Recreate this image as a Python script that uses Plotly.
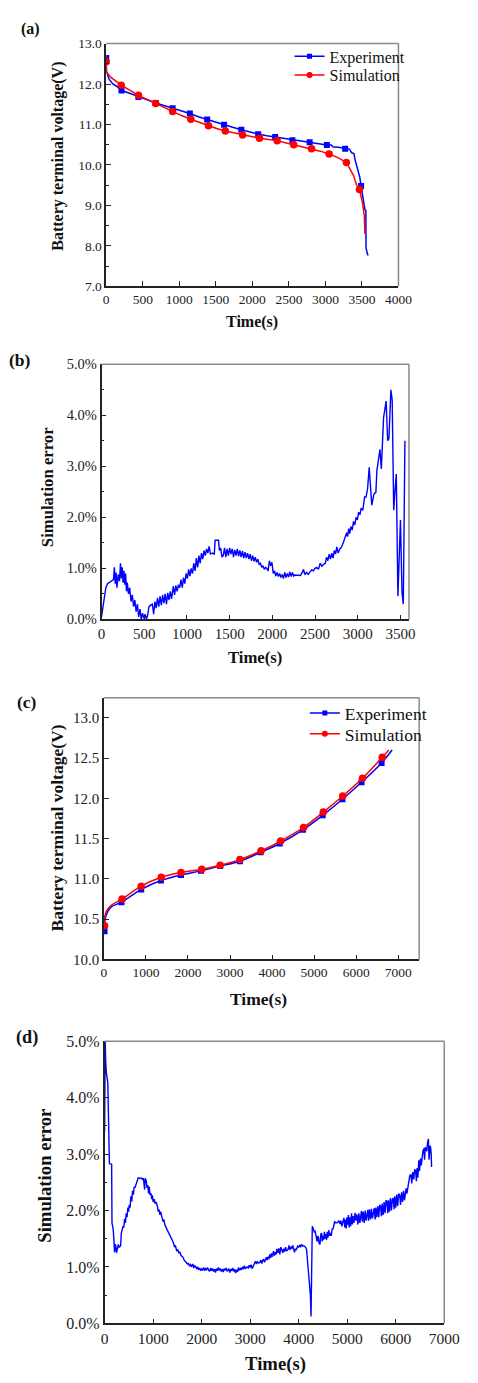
import plotly.graph_objects as go

W, H = 478, 1383
BLUE = '#0000FF'
RED = '#FF0000'
FONT = 'Liberation Serif'

# ---------------- Panel (a): discharge voltage ----------------
a_exp_t = [0, 2, 35, 87, 153, 209, 320, 441, 560, 677, 790, 909, 1030, 1145, 1260, 1381, 1500, 1613,
           1730, 1849, 1960, 2080, 2200, 2312, 2430, 2548, 2660, 2784, 2900, 3020, 3080, 3100, 3200,
           3270, 3330, 3360, 3390, 3410, 3440, 3470, 3488, 3520, 3540, 3554, 3556, 3575, 3584]
a_exp_v = [12.65, 12.33, 12.13, 12.01, 11.93, 11.84, 11.77, 11.68, 11.61, 11.53, 11.47, 11.40, 11.34,
           11.27, 11.19, 11.12, 11.05, 10.99, 10.93, 10.87, 10.81, 10.76, 10.72, 10.69, 10.65, 10.61,
           10.59, 10.56, 10.53, 10.49, 10.49, 10.45, 10.43, 10.40, 10.39, 10.30, 10.28, 10.10, 9.90,
           9.70, 9.48, 9.05, 8.90, 8.87, 7.95, 7.80, 7.76]
a_exp_mt = [0, 209, 441, 677, 909, 1145, 1381, 1613, 1849, 2080, 2312, 2548, 2784, 3020, 3270, 3488]
a_exp_mv = [12.64, 11.84, 11.68, 11.53, 11.40, 11.27, 11.12, 10.99, 10.87, 10.76, 10.69, 10.61, 10.56,
            10.49, 10.40, 9.48]

a_sim_t = [0, 3, 60, 120, 205, 320, 441, 560, 677, 790, 909, 1030, 1158, 1280, 1399, 1510, 1630, 1750,
           1866, 1980, 2098, 2220, 2339, 2450, 2566, 2690, 2810, 2930, 3051, 3170, 3287, 3343, 3387,
           3422, 3466, 3506, 3532, 3540]
a_sim_v = [12.55, 12.30, 12.17, 12.08, 11.97, 11.85, 11.72, 11.62, 11.52, 11.42, 11.32, 11.22, 11.13,
           11.05, 10.97, 10.90, 10.84, 10.79, 10.74, 10.70, 10.66, 10.63, 10.60, 10.55, 10.50, 10.45,
           10.40, 10.34, 10.27, 10.18, 10.06, 9.89, 9.73, 9.52, 9.39, 9.08, 8.75, 8.30]
a_sim_mt = [0, 205, 441, 677, 909, 1158, 1399, 1630, 1866, 2098, 2339, 2566, 2810, 3051, 3287, 3466]
a_sim_mv = [12.55, 11.97, 11.72, 11.52, 11.32, 11.13, 10.97, 10.84, 10.74, 10.66, 10.60, 10.50, 10.40,
            10.27, 10.06, 9.39]

# ---------------- Panel (b): discharge simulation error (%) ----------------
b_t = [0, 15, 30, 50, 70, 95, 120, 140, 150, 160, 170, 180, 195, 210, 222, 232, 242, 252, 262, 272,
       282, 292, 302, 315, 330, 345, 360, 375, 390, 405, 420, 435, 450, 465, 480, 495, 510, 525, 540,
       555, 575, 595, 610, 625, 640, 655, 670, 685, 700, 715, 730, 745, 760, 775, 790, 805, 820, 840,
       855, 870, 885, 900, 915, 930, 945, 960, 975, 990, 1005, 1020, 1035, 1050, 1065, 1080, 1095,
       1110, 1125, 1140, 1155, 1170, 1185, 1200, 1215, 1230, 1245, 1260, 1275, 1300, 1320, 1330,
       1370, 1380, 1395, 1410, 1425, 1440, 1455, 1470, 1485, 1500, 1515, 1530, 1545, 1560, 1575,
       1590, 1605, 1620, 1635, 1650, 1665, 1680, 1695, 1710, 1725, 1740, 1755, 1770, 1785, 1800,
       1815, 1830, 1845, 1860, 1875, 1890, 1905, 1920, 1935, 1950, 1965, 1980, 1995, 2010, 2025,
       2040, 2055, 2070, 2085, 2100, 2115, 2130, 2145, 2160, 2175, 2190, 2205, 2220, 2235, 2250,
       2265, 2300, 2330, 2350, 2365, 2380, 2400, 2420, 2440, 2460, 2480, 2500, 2520, 2540, 2560,
       2580, 2600, 2620, 2635, 2650, 2665, 2680, 2695, 2710, 2725, 2740, 2755, 2770, 2790, 2810,
       2830, 2845, 2860, 2870, 2880, 2895, 2905, 2920, 2935, 2950, 2965, 2980, 2995, 3010, 3025,
       3040, 3059, 3070, 3080, 3097, 3115, 3134, 3145, 3164, 3190, 3212, 3224, 3246, 3260, 3276,
       3302, 3332, 3350, 3365, 3388, 3403, 3421, 3435, 3451, 3470, 3500, 3518, 3533, 3552]
b_err = [0.05, 0.20, 0.35, 0.62, 0.70, 0.73, 0.75, 0.78, 1.02, 0.70, 0.92, 0.62, 0.88, 0.75, 1.10, 0.80,
         1.02, 0.72, 0.95, 0.68, 0.90, 0.55, 0.72, 0.50, 0.62, 0.35, 0.48, 0.25, 0.38, 0.15, 0.30, 0.05,
         0.20, 0.00, 0.12, 0.02, 0.10, 0.00, 0.08, 0.25, 0.28, 0.30, 0.10, 0.35, 0.22, 0.42, 0.25, 0.45,
         0.28, 0.48, 0.32, 0.50, 0.30, 0.52, 0.38, 0.55, 0.40, 0.65, 0.48, 0.66, 0.55, 0.68, 0.62, 0.78,
         0.62, 0.82, 0.70, 0.90, 0.80, 0.98, 0.85, 1.00, 0.90, 1.10, 0.95, 1.20, 1.02, 1.25, 1.10, 1.30,
         1.18, 1.35, 1.25, 1.38, 1.30, 1.43, 1.28, 1.30, 1.28, 1.55, 1.55, 1.35, 1.40, 1.22, 1.25, 1.40,
         1.22, 1.38, 1.25, 1.40, 1.28, 1.38, 1.22, 1.36, 1.25, 1.38, 1.24, 1.35, 1.22, 1.34, 1.20, 1.32,
         1.20, 1.30, 1.18, 1.28, 1.15, 1.25, 1.14, 1.22, 1.12, 1.18, 1.08, 1.10, 1.02, 1.05, 0.98, 1.02,
         1.00, 0.95, 1.15, 1.05, 1.12, 0.90, 0.95, 0.85, 0.92, 0.84, 0.90, 0.82, 0.88, 0.80, 0.92, 0.82,
         0.90, 0.83, 0.93, 0.84, 0.92, 0.85, 0.87, 0.86, 0.86, 0.92, 0.98, 0.88, 0.92, 0.88, 0.92, 0.97,
         0.95, 1.00, 1.02, 0.98, 1.10, 1.04, 1.08, 1.10, 1.22, 1.15, 1.28, 1.18, 1.30, 1.20, 1.35, 1.28,
         1.42, 1.30, 1.38, 1.42, 1.50, 1.58, 1.62, 1.70, 1.62, 1.78, 1.68, 1.82, 1.75, 1.92, 1.85, 2.00,
         1.95, 2.10, 2.05, 2.18, 2.14, 2.25, 2.40, 2.40, 2.56, 2.98, 2.60, 2.24, 2.46, 2.49, 2.92, 3.24,
         3.33, 2.95, 3.95, 4.28, 3.50, 3.55, 4.50, 4.30, 2.14, 2.50, 2.85, 0.46, 1.95, 0.53, 0.30, 3.50]

# ---------------- Panel (c): charge voltage ----------------
c_exp_t = [0, 53, 167, 417, 886, 1356, 1833, 2311, 2765, 3235, 3727, 4182, 4735, 5205, 5674, 6129,
           6606, 6856]
c_exp_v = [10.35, 10.55, 10.65, 10.71, 10.87, 10.98, 11.05, 11.10, 11.16, 11.22, 11.33, 11.44, 11.61,
           11.79, 11.99, 12.20, 12.44, 12.60]
c_exp_mt = [15, 417, 886, 1356, 1833, 2311, 2765, 3235, 3727, 4182, 4735, 5205, 5674, 6129, 6606]
c_exp_mv = [10.35, 10.71, 10.87, 10.98, 11.05, 11.10, 11.16, 11.22, 11.33, 11.44, 11.61, 11.79, 11.99,
            12.20, 12.44]

c_sim_t = [0, 60, 167, 432, 886, 1364, 1833, 2326, 2765, 3235, 3742, 4205, 4750, 5220, 5682, 6152,
           6621, 6780]
c_sim_v = [10.47, 10.60, 10.67, 10.75, 10.91, 11.02, 11.08, 11.12, 11.17, 11.24, 11.35, 11.47, 11.64,
           11.83, 12.03, 12.25, 12.51, 12.60]
c_sim_mt = [15, 432, 886, 1364, 1833, 2326, 2765, 3235, 3742, 4205, 4750, 5220, 5682, 6152, 6621]
c_sim_mv = [10.42, 10.75, 10.91, 11.02, 11.08, 11.12, 11.17, 11.24, 11.35, 11.47, 11.64, 11.83, 12.03,
            12.25, 12.51]

# ---------------- Panel (d): charge simulation error (%) ----------------
d_t = [0, 12, 20, 33, 66, 99, 145, 152, 178, 190, 205, 220, 231, 245, 264, 284, 300, 330, 345, 363,
       380, 396, 412, 429, 445, 462, 480, 495, 508, 525, 540, 561, 575, 594, 610, 625, 640, 660, 693,
       720, 759, 780, 800, 815, 825, 838, 860, 875, 891, 905, 920, 935, 957, 970, 985, 1000, 1023,
       1040, 1060, 1089, 1105, 1120, 1140, 1155, 1175, 1190, 1210, 1221, 1240, 1260, 1287, 1310, 1330,
       1353, 1375, 1395, 1419, 1440, 1460, 1485, 1510, 1530, 1551, 1575, 1600, 1617, 1640, 1660, 1683,
       1710, 1730, 1749, 1770, 1790, 1815, 1840, 1860, 1881, 1900, 1920, 1940, 1960, 1980, 2000, 2020,
       2040, 2060, 2080, 2100, 2120, 2145, 2165, 2185, 2205, 2225, 2245, 2265, 2285, 2305, 2325, 2345,
       2365, 2385, 2405, 2425, 2445, 2465, 2485, 2505, 2525, 2541, 2560, 2580, 2600, 2620, 2640, 2660,
       2680, 2700, 2720, 2740, 2760, 2780, 2800, 2820, 2840, 2860, 2880, 2900, 2937, 2960, 2980, 3000,
       3020, 3040, 3069, 3090, 3110, 3130, 3150, 3170, 3201, 3220, 3240, 3255, 3275, 3295, 3315, 3333,
       3350, 3370, 3386, 3405, 3420, 3440, 3460, 3480, 3500, 3518, 3535, 3550, 3570, 3590, 3610, 3630,
       3649, 3670, 3690, 3710, 3730, 3750, 3781, 3800, 3820, 3840, 3860, 3880, 3900, 3912, 3930, 3950,
       3978, 4000, 4020, 4040, 4060, 4080, 4109, 4140, 4162, 4185, 4208, 4230, 4241, 4254, 4280, 4300,
       4320, 4339, 4360, 4380, 4395, 4405, 4420, 4438, 4455, 4471, 4485, 4500, 4515, 4530, 4545, 4560,
       4575, 4590, 4605, 4620, 4635, 4650, 4670, 4690, 4701, 4720, 4740, 4767, 4790, 4810, 4830, 4850,
       4870, 4890, 4910, 4931, 4950, 4965, 4980, 4995, 5010, 5025, 5040, 5055, 5070, 5090, 5105, 5120,
       5140, 5161, 5180, 5200, 5220, 5240, 5260, 5293, 5310, 5330, 5350, 5370, 5390, 5410, 5424, 5440,
       5460, 5480, 5500, 5520, 5540, 5556, 5575, 5590, 5610, 5630, 5650, 5670, 5687, 5705, 5720, 5740,
       5760, 5780, 5800, 5819, 5835, 5850, 5870, 5890, 5910, 5930, 5950, 5965, 5980, 6000, 6020, 6040,
       6060, 6082, 6100, 6120, 6140, 6160, 6180, 6200, 6213, 6230, 6250, 6270, 6290, 6312, 6330, 6350,
       6370, 6390, 6410, 6425, 6440, 6455, 6476, 6490, 6510, 6525, 6542, 6560, 6580, 6595, 6607, 6620,
       6640, 6655, 6673, 6685, 6700, 6710, 6720, 6730, 6739]
d_err = [3.40, 5.00, 4.70, 4.46, 4.26, 2.83, 2.82, 1.78, 1.66, 1.50, 1.26, 1.40, 1.37, 1.25, 1.32, 1.40,
         1.35, 1.37, 1.60, 1.66, 1.72, 1.70, 1.85, 1.78, 1.95, 1.88, 2.05, 1.98, 2.10, 2.05, 2.25, 2.16,
         2.35, 2.28, 2.42, 2.40, 2.45, 2.50, 2.58, 2.57, 2.57, 2.55, 2.57, 2.45, 2.37, 2.57, 2.52, 2.40,
         2.45, 2.30, 2.42, 2.28, 2.30, 2.20, 2.27, 2.15, 2.20, 2.12, 2.15, 2.07, 1.98, 2.02, 1.92, 1.98,
         1.88, 1.85, 1.80, 1.84, 1.75, 1.70, 1.66, 1.62, 1.58, 1.55, 1.50, 1.46, 1.43, 1.35, 1.38, 1.28,
         1.30, 1.25, 1.26, 1.20, 1.18, 1.17, 1.12, 1.10, 1.08, 1.05, 1.06, 1.02, 1.04, 1.00, 1.05, 0.98,
         1.02, 1.00, 0.96, 1.00, 0.95, 0.98, 0.93, 0.97, 0.94, 0.99, 0.93, 0.97, 0.95, 0.99, 0.94, 0.92,
         0.98, 0.93, 0.97, 0.92, 0.96, 0.90, 0.97, 0.93, 0.99, 0.94, 0.97, 0.92, 0.96, 0.91, 0.97, 0.94,
         0.98, 0.92, 0.94, 0.97, 0.90, 0.96, 0.93, 0.98, 0.92, 0.96, 0.89, 0.95, 0.91, 0.99, 0.94, 0.97,
         0.95, 1.00, 0.96, 1.02, 0.97, 1.00, 0.98, 1.03, 0.99, 1.04, 0.97, 1.02, 1.06, 1.10, 1.05, 1.09,
         1.07, 1.08, 1.12, 1.06, 1.11, 1.14, 1.08, 1.16, 1.17, 1.12, 1.18, 1.14, 1.22, 1.16, 1.24, 1.18,
         1.28, 1.20, 1.26, 1.22, 1.32, 1.25, 1.33, 1.22, 1.35, 1.31, 1.25, 1.32, 1.27, 1.35, 1.28, 1.31,
         1.38, 1.30, 1.36, 1.32, 1.38, 1.30, 1.26, 1.32, 1.30, 1.37, 1.35, 1.38, 1.36, 1.40, 1.37, 1.37,
         1.35, 1.31, 1.10, 0.91, 0.60, 0.50, 0.12, 1.72, 1.68, 1.62, 1.63, 1.55, 1.45, 1.55, 1.52, 1.42,
         1.40, 1.58, 1.60, 1.45, 1.55, 1.48, 1.62, 1.50, 1.58, 1.48, 1.62, 1.52, 1.65, 1.55, 1.60, 1.55,
         1.68, 1.66, 1.72, 1.80, 1.78, 1.78, 1.80, 1.82, 1.76, 1.82, 1.72, 1.80, 1.87, 1.70, 1.84, 1.68,
         1.88, 1.75, 1.92, 1.70, 1.88, 1.72, 1.95, 1.75, 1.90, 1.78, 1.96, 1.82, 1.93, 1.75, 1.95, 1.78,
         1.99, 1.80, 1.98, 1.78, 2.00, 1.82, 1.98, 2.01, 1.82, 2.02, 1.84, 2.03, 1.86, 2.00, 2.04, 1.84,
         2.05, 1.88, 2.08, 1.88, 2.10, 2.07, 1.90, 2.12, 1.92, 2.15, 1.95, 2.18, 2.16, 1.95, 2.18, 1.98,
         2.22, 2.00, 2.20, 2.22, 2.02, 2.25, 2.05, 2.28, 2.08, 2.30, 2.27, 2.10, 2.32, 2.15, 2.35, 2.18,
         2.38, 2.39, 2.30, 2.40, 2.55, 2.62, 2.63, 2.48, 2.68, 2.55, 2.72, 2.71, 2.52, 2.75, 2.58, 2.89,
         2.70, 2.92, 2.80, 2.95, 3.05, 3.10, 2.90, 3.12, 3.10, 3.05, 3.20, 3.27, 2.90, 3.05, 3.15, 3.10,
         3.00, 2.77]

# ---------------- layout helpers (pixel boxes of each plot area) ----------------
def dom_x(x0, x1):
    return [x0 / W, x1 / W]


def dom_y(ytop, ybot):
    return [1 - ybot / H, 1 - ytop / H]


def px(x):
    return x / W


def py(y):
    return 1 - y / H


panels = {
    'a': dict(box=(106.7, 36.0, 411.7, 281.7)),
    'b': dict(box=(101.8, 360.7, 422.7, 619.0)),
    'c': dict(box=(104.3, 698.3, 433.3, 963.3)),
    'd': dict(box=(105.0, 1046.0, 459.5, 1331.7)),
}

fig = go.Figure()

# panel (a)
fig.add_trace(go.Scatter(x=a_exp_t, y=a_exp_v, mode='lines', line=dict(color=BLUE, width=1.5),
                         xaxis='x', yaxis='y', showlegend=False, hoverinfo='skip'))
fig.add_trace(go.Scatter(x=a_exp_mt, y=a_exp_mv, mode='markers',
                         marker=dict(color=BLUE, symbol='square', size=6),
                         xaxis='x', yaxis='y', showlegend=False))
fig.add_trace(go.Scatter(x=a_sim_t, y=a_sim_v, mode='lines', line=dict(color=RED, width=1.5),
                         xaxis='x', yaxis='y', showlegend=False, hoverinfo='skip'))
fig.add_trace(go.Scatter(x=a_sim_mt, y=a_sim_mv, mode='markers',
                         marker=dict(color=RED, symbol='circle', size=7.5),
                         xaxis='x', yaxis='y', showlegend=False))
fig.add_trace(go.Scatter(x=[None], y=[None], mode='lines+markers', name='Experiment',
                         line=dict(color=BLUE, width=1.5), marker=dict(color=BLUE, symbol='square', size=5),
                         xaxis='x', yaxis='y', legend='legend'))
fig.add_trace(go.Scatter(x=[None], y=[None], mode='lines+markers', name='Simulation',
                         line=dict(color=RED, width=1.5), marker=dict(color=RED, symbol='circle', size=6),
                         xaxis='x', yaxis='y', legend='legend3'))

# panel (b)
fig.add_trace(go.Scatter(x=b_t, y=b_err, mode='lines', line=dict(color=BLUE, width=1.4),
                         xaxis='x2', yaxis='y2', showlegend=False))

# panel (c)
fig.add_trace(go.Scatter(x=c_exp_t, y=c_exp_v, mode='lines', line=dict(color=BLUE, width=1.5, shape='spline'),
                         xaxis='x3', yaxis='y3', showlegend=False, hoverinfo='skip'))
fig.add_trace(go.Scatter(x=c_exp_mt, y=c_exp_mv, mode='markers',
                         marker=dict(color=BLUE, symbol='square', size=6),
                         xaxis='x3', yaxis='y3', showlegend=False))
fig.add_trace(go.Scatter(x=c_sim_t, y=c_sim_v, mode='lines', line=dict(color=RED, width=1.5, shape='spline'),
                         xaxis='x3', yaxis='y3', showlegend=False, hoverinfo='skip'))
fig.add_trace(go.Scatter(x=c_sim_mt, y=c_sim_mv, mode='markers',
                         marker=dict(color=RED, symbol='circle', size=7.5),
                         xaxis='x3', yaxis='y3', showlegend=False))
fig.add_trace(go.Scatter(x=[None], y=[None], mode='lines+markers', name='Experiment',
                         line=dict(color=BLUE, width=1.5), marker=dict(color=BLUE, symbol='square', size=5),
                         xaxis='x3', yaxis='y3', legend='legend2'))
fig.add_trace(go.Scatter(x=[None], y=[None], mode='lines+markers', name='Simulation',
                         line=dict(color=RED, width=1.5), marker=dict(color=RED, symbol='circle', size=6),
                         xaxis='x3', yaxis='y3', legend='legend4'))

# panel (d)
fig.add_trace(go.Scatter(x=d_t, y=d_err, mode='lines', line=dict(color=BLUE, width=1.4),
                         xaxis='x4', yaxis='y4', showlegend=False))

AX_COLOR = '#222222'
FRAME_COLOR = '#8a8a8a'


def xaxis(box, rng, dtick, anchor, fs):
    x0, y0, x1, y1 = box
    return dict(domain=dom_x(x0, x1), range=rng, dtick=dtick, tick0=0, anchor=anchor,
                showline=True, linecolor=AX_COLOR, linewidth=1.5, mirror=False,
                ticks='inside', ticklen=5, tickwidth=1.2, tickcolor=AX_COLOR,
                showgrid=False, zeroline=False, fixedrange=True,
                tickfont=dict(family=FONT, size=fs, color='#222'))


def yaxis(box, rng, dtick, anchor, fs, minor=None, fmt='.1f', suffix=''):
    x0, y0, x1, y1 = box
    d = dict(domain=dom_y(y0, y1), range=rng, dtick=dtick, tick0=0, anchor=anchor,
             showline=True, linecolor=AX_COLOR, linewidth=1.5, mirror=False,
             ticks='inside', ticklen=5, tickwidth=1.2, tickcolor=AX_COLOR,
             showgrid=False, zeroline=False, fixedrange=True,
             tickformat=fmt, ticksuffix=suffix,
             tickfont=dict(family=FONT, size=fs, color='#222'))
    if minor is not None:
        d['minor'] = dict(dtick=minor, ticks='inside', ticklen=3, tickwidth=1.1, tickcolor=AX_COLOR,
                          showgrid=False)
    return d


def leg(x, y, fs):
    return dict(x=px(x), y=py(y), xanchor='left', yanchor='middle', bgcolor='rgba(0,0,0,0)',
                font=dict(family=FONT, size=fs, color='#111'), tracegroupgap=0, itemwidth=30)


layout = dict(
    width=W, height=H, margin=dict(l=0, r=0, t=0, b=0),
    paper_bgcolor='white', plot_bgcolor='white',
    xaxis=xaxis(panels['a']['box'], [0, 4000], 500, 'y', 13.5),
    yaxis=yaxis(panels['a']['box'], [7, 13], 1, 'x', 13.5, minor=0.5),
    xaxis2=xaxis(panels['b']['box'], [0, 3600], 500, 'y2', 15),
    yaxis2=yaxis(panels['b']['box'], [0, 5], 1, 'x2', 14.5, minor=0.5, suffix='%'),
    xaxis3=xaxis(panels['c']['box'], [0, 7500], 1000, 'y3', 13.5),
    yaxis3=yaxis(panels['c']['box'], [10, 13.25], 0.5, 'x3', 15),
    xaxis4=xaxis(panels['d']['box'], [0, 7000], 1000, 'y4', 15.5),
    yaxis4=yaxis(panels['d']['box'], [0, 5], 1, 'x4', 16, minor=0.5, suffix='%'),
    legend=leg(298, 49, 16),
    legend3=leg(298, 68, 16),
    legend2=leg(314, 714, 17.5),
    legend4=leg(314, 735, 17.5),
    showlegend=True,
)
fig.update_layout(**layout)

# top / right frame lines (lighter gray, as in the reference)
shapes = []
for xr, yr in [('x', 'y'), ('x2', 'y2'), ('x3', 'y3'), ('x4', 'y4')]:
    shapes.append(dict(type='line', xref=xr + ' domain', yref=yr + ' domain', x0=0, x1=1, y0=1, y1=1,
                       line=dict(color=FRAME_COLOR, width=1.5)))
    shapes.append(dict(type='line', xref=xr + ' domain', yref=yr + ' domain', x0=1, x1=1, y0=0, y1=1,
                       line=dict(color=FRAME_COLOR, width=1.5)))
fig.update_layout(shapes=shapes)

# panel labels and axis titles as text annotations at their pixel positions
texts = [
    # text, x, y, size, angle
    ('(a)', 28, 21, 16, 0),
    ('Time(s)', 259, 318, 16, 0),
    ('Battery terminal voltage(V)', 57, 150, 16, -90),
    ('(b)', 17, 356, 17.5, 0),
    ('Time(s)', 262, 658, 16.7, 0),
    ('Simulation error', 45, 485, 16.7, -90),
    ('(c)', 24, 703, 17.5, 0),
    ('Time(s)', 266, 1003, 17.5, 0),
    ('Battery terminal voltage(V)', 55, 830, 17.5, -90),
    ('(d)', 24, 1042, 18.3, 0),
    ('Time(s)', 283, 1373, 18.7, 0),
    ('Simulation error', 42, 1182, 18.7, -90),
]
anns = []
for t, x, y, s, ang in texts:
    anns.append(dict(text='<b>' + t + '</b>', x=px(x), y=py(y), xref='paper', yref='paper',
                     xanchor='center', yanchor='middle', showarrow=False, textangle=ang,
                     font=dict(family=FONT, size=s, color='#111')))
fig.update_layout(annotations=anns)

fig.write_html('out.html')
